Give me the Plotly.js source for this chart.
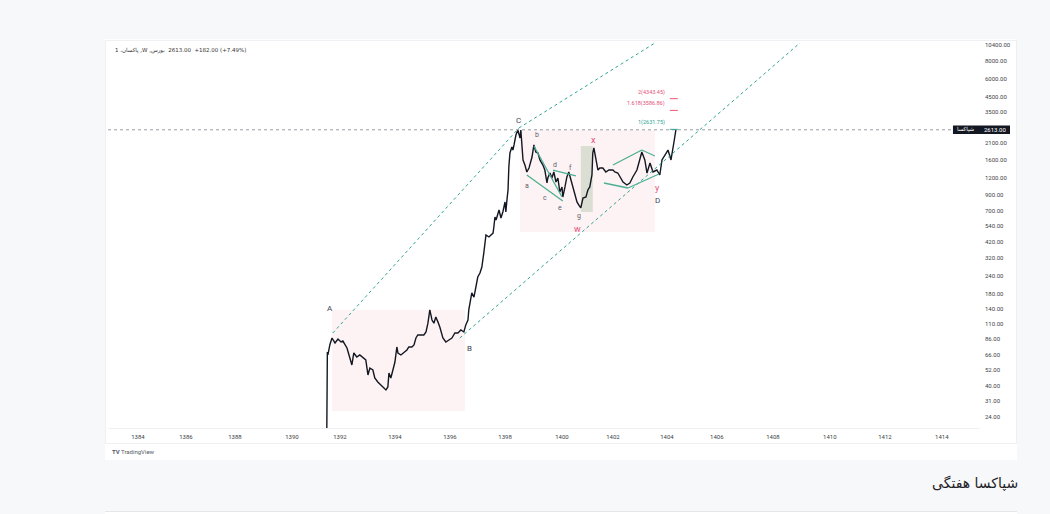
<!DOCTYPE html>
<html><head><meta charset="utf-8">
<script src="https://cdn.plot.ly/plotly-3.0.1.min.js"></script>
<style>
html,body{margin:0;padding:0;background:#f7f8fa;width:1050px;height:514px;overflow:hidden;}
#card{position:absolute;left:105px;top:39px;width:912px;height:421px;background:#fff;}
#frame{position:absolute;left:105px;top:40px;width:910px;height:402px;border:1px solid #eef0f3;}
#next{position:absolute;left:105px;top:511px;width:912px;height:10px;background:#fff;border-top:1px solid #e4e6ea;}
#chart{position:absolute;left:0;top:0;width:1050px;height:514px;}
</style></head><body>
<div id="card"></div><div id="frame"></div><div id="next"></div>
<div id="chart"></div>
<script>
// ---- data (x in years of the Persian calendar, weekly closes) ----
const weeks = [1391.52,1391.54,1391.56,1391.63,1391.71,1391.82,1391.93,1392.04,1392.11,1392.26,1392.37,1392.44,1392.51,1392.62,1392.73,1392.84,1392.95,1393.03,1393.10,1393.21,1393.28,1393.39,1393.50,1393.61,1393.69,1393.76,1393.80,1393.87,1393.95,1394.02,1394.09,1394.13,1394.24,1394.35,1394.46,1394.53,1394.64,1394.72,1394.79,1394.86,1394.97,1395.08,1395.16,1395.23,1395.30,1395.38,1395.45,1395.52,1395.60,1395.67,1395.78,1395.89,1396.00,1396.11,1396.22,1396.33,1396.44,1396.55,1396.62,1396.70,1396.73,1396.81,1396.84,1396.92,1396.99,1397.06,1397.14,1397.21,1397.28,1397.32,1397.36,1397.47,1397.54,1397.62,1397.65,1397.69,1397.73,1397.80,1397.84,1397.91,1397.95,1397.98,1398.06,1398.09,1398.13,1398.17,1398.20,1398.24,1398.31,1398.35,1398.39,1398.42,1398.46,1398.53,1398.57,1398.61,1398.64,1398.68,1398.72,1398.79,1398.86,1398.94,1399.05,1399.12,1399.19,1399.27,1399.34,1399.45,1399.52,1399.60,1399.63,1399.71,1399.78,1399.85,1399.93,1400.00,1400.07,1400.15,1400.18,1400.26,1400.33,1400.40,1400.48,1400.55,1400.62,1400.70,1400.77,1400.84,1400.92,1401.03,1401.10,1401.17,1401.25,1401.28,1401.32,1401.39,1401.47,1401.54,1401.65,1401.76,1401.87,1402.02,1402.09,1402.20,1402.28,1402.39,1402.53,1402.64,1402.75,1402.90,1402.97,1403.08,1403.19,1403.27,1403.38,1403.49,1403.63,1403.74,1403.82,1403.93,1404.04,1404.15,1404.22,1404.26,1404.33];
const closes = [20,69.4,66.1,77.8,87.2,80.4,85.8,81.7,83.0,74.1,63.9,56.1,68.3,63.9,66.1,63.9,60.9,47.7,53.4,51.7,45.4,42.5,40.5,38.5,37.3,39.2,49.2,45.4,53.4,58.9,75.3,68.3,66.1,69.4,71.7,75.3,75.3,77.8,87.2,91.6,91.6,91.6,96.2,111,138,117,111,123,113,104,87.2,81.7,84.4,87.2,94.6,94.6,99.4,96.2,108,117,138,170,182,170,201,236,252,278,349,432,469,454,469,484,534,629,599,671,705,619,650,683,804,683,830,978,1423,1789,1973,1878,2039,2212,2400,2604,2479,2285,2604,1941,1596,1470,1312,1400,1676,2039,1818,1789,1596,1470,1355,1096,1189,1290,1189,1312,1114,1189,946,1027,872,1027,1209,1312,1151,1010,901,804,765,729,858,872,978,1027,1249,1789,1941,1676,1355,1400,1400,1312,1355,1355,1312,1290,1209,1114,1061,1096,1209,1355,1519,1818,1596,1290,1519,1312,1355,1249,1596,1732,1878,1596,1878,2141,2613];
const lastPrice = 2613;

const yearLabels = ['1384','1386','1388','1390','1392','1394','1396','1398','1400','1402','1404','1406','1408','1410','1412','1414'];
const yearTickPos = [1384.59,1386.35,1388.15,1390.24,1392.0,1394.02,1396.04,1398.06,1400.15,1402.02,1404.0,1405.83,1407.89,1409.98,1412.0,1414.09];
const priceTicks = [24,31,40,52,66,86,110,140,180,240,320,420,540,700,900,1200,1600,2100,3500,4500,6000,8000,10400];

// pattern boxes [x0, x1, low, high]
const boxAB = [1391.71, 1396.59, 26.5, 138];
const boxWY = [1398.61, 1403.56, 492, 2604];
const boxG  = [1400.84, 1401.28, 683, 2006];
// channel lines [x0, y0, x1, y1]
const channelUpperAC = [1391.74, 94.6, 1398.57, 2691];
const channelUpperTop = [1398.57, 2691, 1403.56, 10783];
const channelLower = [1396.40, 87.2, 1408.88, 10783];
// wedge lines
const wedgeLines = [
  [1399.12,2006,1400.15,872],[1398.86,1249,1400.18,818],[1399.82,1355,1400.66,1229],
  [1402.02,1470,1403.08,1878],[1403.08,1878,1403.56,1704],
  [1401.69,1096,1402.57,1010],[1402.57,1010,1403.71,1270]
];
// Fibonacci targets
const fibLevels = [4343.45, 3586.86, 2631.75];
const fibText = ['2(4343.45)', '1.618(3586.86)', '1(2631.75)'];
const fibX = [1404.11, 1404.40];
// wave labels
const waveLabels = ['A','B','C','D','a','b','c','d','e','f','g','w','x','y'];
const waveX = [1391.63,1396.77,1398.57,1403.67,1398.86,1399.23,1399.52,1399.89,1400.07,1400.48,1400.77,1400.73,1401.32,1403.67];
const waveY = [142,72.9,3017,818,1044,2400,858,1470,729,1400,640,517,2212,1010];

const FONT = 'Roboto, "Liberation Sans", sans-serif';
const shapes = [];
const pink = 'rgba(242,54,69,0.06)';
[boxAB, boxWY].forEach(b => shapes.push({type:'rect', xref:'x', yref:'y', x0:b[0], x1:b[1], y0:b[2], y1:b[3], fillcolor:pink, line:{width:0}, layer:'below'}));
shapes.push({type:'rect', xref:'x', yref:'y', x0:boxG[0], x1:boxG[1], y0:boxG[2], y1:boxG[3], fillcolor:'rgba(76,140,80,0.2)', line:{width:0}, layer:'below'});
shapes.push({type:'line', xref:'paper', yref:'y', x0:0, x1:0.969, y0:lastPrice, y1:lastPrice, line:{color:'#9a9ca3', width:1, dash:'dot'}});
[channelUpperAC, channelUpperTop, channelLower].forEach(l => shapes.push({type:'line', xref:'x', yref:'y', x0:l[0], y0:l[1], x1:l[2], y1:l[3], line:{color:'#2fa395', width:1, dash:'dot'}}));
wedgeLines.forEach(l => shapes.push({type:'line', xref:'x', yref:'y', x0:l[0], y0:l[1], x1:l[2], y1:l[3], line:{color:'#4caf94', width:1.3}}));
fibLevels.forEach((v,i) => shapes.push({type:'line', xref:'x', yref:'y', x0:fibX[0], x1:fibX[1], y0:v, y1:v, line:{color: i===2 ? '#2fa395' : '#f0546e', width:1}}));
shapes.push({type:'rect', xref:'paper', yref:'y', x0:0.969, x1:1.0344, y0:2439, y1:2803, fillcolor:'#131722', line:{width:0}});

const annotations = [];
const upper = {A:1,B:1,C:1,D:1};
const pinkLab = {w:1,x:1,y:1};
waveLabels.forEach((t,i) => annotations.push({
  xref:'x', yref:'y', x:waveX[i], y:Math.log10(waveY[i]), text:t, showarrow:false, xanchor:'center', yanchor:'middle',
  font:{family:FONT, size: pinkLab[t] ? 9 : (upper[t] ? 8 : 7), color: pinkLab[t] ? '#e4507a' : (upper[t] ? '#434651' : '#5d606b')}
}));
fibLevels.forEach((v,i) => annotations.push({
  xref:'x', yref:'y', x:1404.0, y:Math.log10(v), text:fibText[i], showarrow:false, xanchor:'right', yanchor:'bottom', yshift:1,
  font:{family:FONT, size:5.5, color: i===2 ? '#2fa395' : '#e4507a'}
}));
annotations.push({xref:'paper', yref:'y', x:0.9845, y:Math.log10(lastPrice), xanchor:'center', yanchor:'middle', text:'شپاکسا', showarrow:false, font:{family:'"DejaVu Sans", sans-serif', size:5.5, color:'#ffffff'}});
annotations.push({xref:'paper', yref:'y', x:1.0172, y:Math.log10(lastPrice), xanchor:'center', yanchor:'middle', text:lastPrice.toFixed(2), showarrow:false, font:{family:FONT, size:6, color:'#ffffff'}});
annotations.push({xref:'paper', yref:'paper', x:0.0057, y:0.979, xanchor:'left', yanchor:'middle', text:'1 ،پاکسان ,W ,بورس\u200E  2613.00  +182.00 (+7.49%)', showarrow:false, font:{family:'"DejaVu Sans", sans-serif', size:5.5, color:'#333333'}});
annotations.push({xref:'paper', yref:'paper', x:0.0023, y:-0.0596, xanchor:'left', yanchor:'middle', text:'<b>TV</b> TradingView', showarrow:false, font:{family:FONT, size:6, color:'#555a66'}});
annotations.push({xref:'paper', yref:'paper', x:1.0459, y:-0.1425, xanchor:'right', yanchor:'middle', text:'شپاکسا هفتگی', showarrow:false, font:{family:'"DejaVu Sans", sans-serif', size:14, color:'#1f2328'}});

const trace = {x:weeks, y:closes, type:'scatter', mode:'lines', line:{color:'#131722', width:1.4}, hoverinfo:'skip'};

const layout = {
  width:1050, height:514,
  margin:{l:108, r:70, t:42, b:86},
  paper_bgcolor:'rgba(0,0,0,0)', plot_bgcolor:'#ffffff',
  showlegend:false,
  xaxis:{range:[1383.49,1415.49], tickvals:yearTickPos, ticktext:yearLabels, showgrid:false, zeroline:false,
         showline:true, linecolor:'#eef0f3', ticks:'', ticklabelstandoff:3, tickfont:{family:FONT, size:6, color:'#3d3f47'}},
  yaxis:{type:'log', side:'right', range:[1.3022,4.0398], tickvals:priceTicks, ticktext:priceTicks.map(v=>v.toFixed(2)),
         showgrid:false, zeroline:false, showline:false, ticks:'', ticklabelstandoff:4, tickfont:{family:FONT, size:6, color:'#3d3f47'}},
  shapes:shapes, annotations:annotations
};
Plotly.newPlot('chart', [trace], layout, {staticPlot:true, displayModeBar:false});
</script>
</body></html>
